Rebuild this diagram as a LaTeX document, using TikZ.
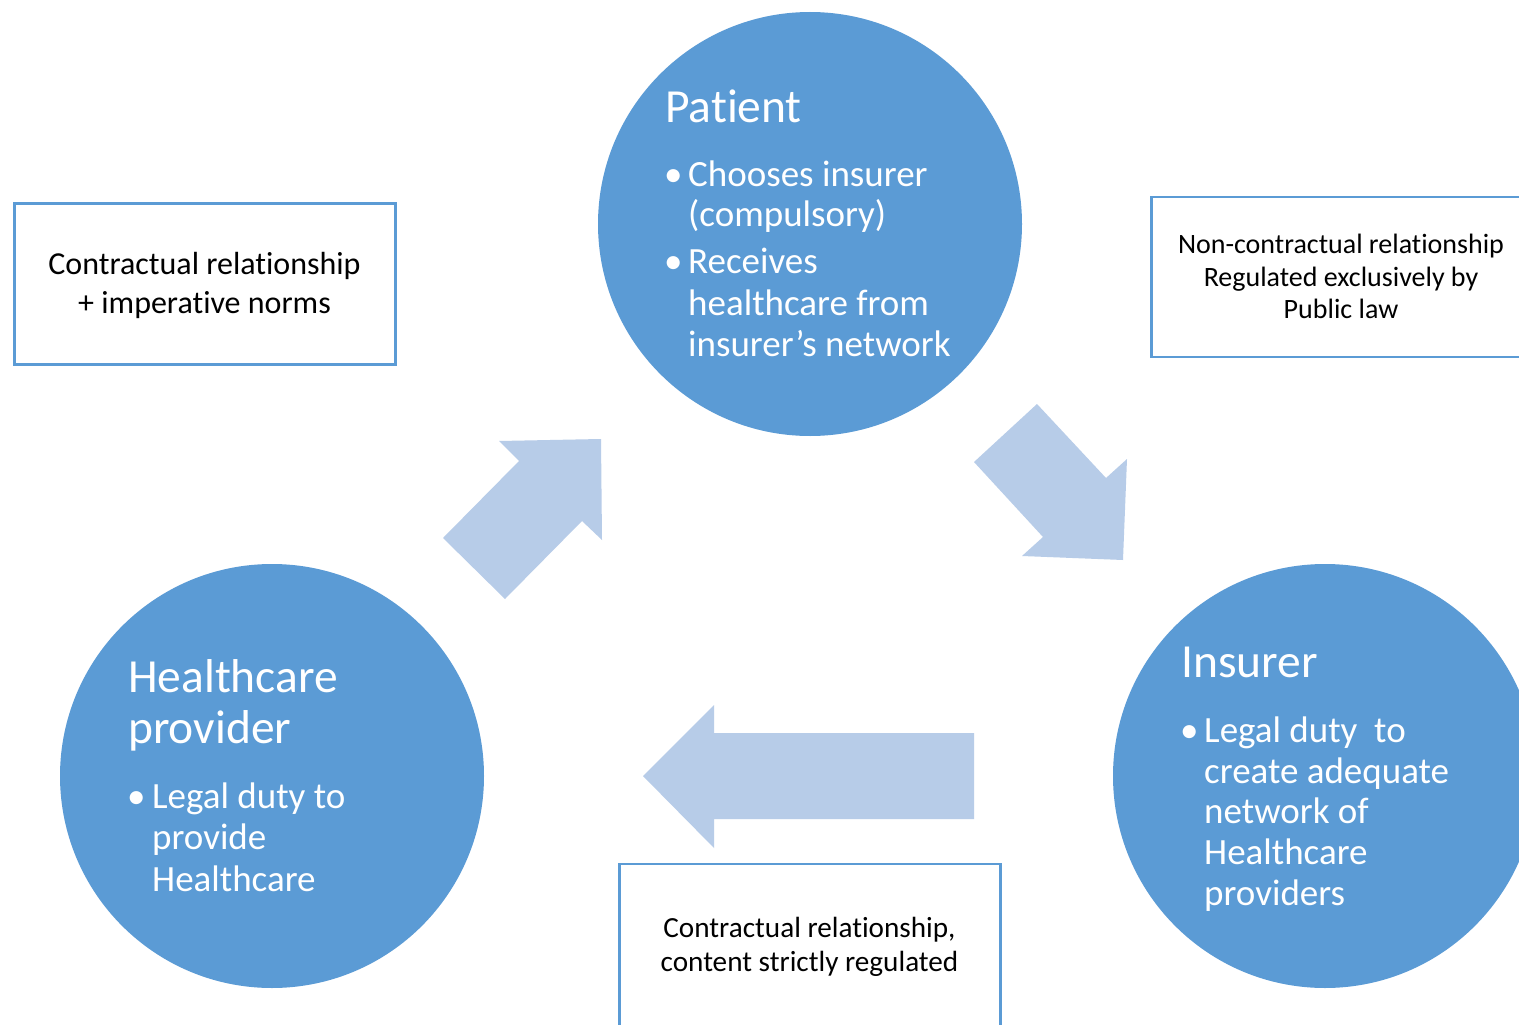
\documentclass[tikz,border=0pt]{standalone}
\usepackage{fontspec}
\setmainfont{Carlito}[Ligatures={NoCommon}]
\definecolor{circblue}{HTML}{5B9BD5}
\definecolor{arrowblue}{HTML}{B7CCE8}
\definecolor{frameblue}{HTML}{5B9BD5}
\begin{document}
\begin{tikzpicture}[x=1pt,y=-1pt,
  circ/.style={circle,fill=circblue,draw=none,minimum size=424pt,inner sep=0pt},
  frame/.style={draw=frameblue,line width=2.5pt,fill=white,inner sep=0pt,outer sep=0pt,anchor=north west},
  blockarrow/.style={fill=arrowblue,draw=none},
  headtxt/.style={text=white,inner sep=0pt,anchor=base west,font=\fontsize{47.5}{52}\selectfont},
  bultxt/.style={text=white,inner sep=0pt,anchor=base west,font=\fontsize{37}{41}\selectfont},
  ltxt/.style={text=black,inner sep=0pt,anchor=base,font=\fontsize{32}{36}\selectfont},
  rtxt/.style={text=black,inner sep=0pt,anchor=base,font=\fontsize{28}{32}\selectfont},
  btxt/.style={text=black,inner sep=0pt,anchor=base,font=\fontsize{29.2}{33}\selectfont}]
\useasboundingbox (0,0) rectangle (1519,1025);
\clip (0,0) rectangle (1519,1025);
\fill[white] (0,0) rectangle (1519,1025);

% circles
\node[circ] (patient) at (810,224) {};
\node[circ] (provider) at (272,776) {};
\node[circ] (insurer) at (1325,776) {};

% block arrows
\fill[blockarrow] (443,538) -- (519,461) -- (499,441) -- (601,439) -- (602,540) -- (582,521) -- (505,599) -- cycle;
\fill[blockarrow] (1037,404) -- (1106,478) -- (1127,459) -- (1123,560) -- (1022,556) -- (1043,537) -- (974,462) -- cycle;
\fill[blockarrow] (643,776) -- (714,705) -- (714,733) -- (974,733) -- (974,819) -- (714,819) -- (714,848) -- cycle;

% boxes
\node[frame,minimum width=381pt,minimum height=161pt] (lbox) at (14.5,203.5) {};
\node[frame,minimum width=380pt,minimum height=160pt] (rbox) at (1151.5,197) {};
\node[frame,minimum width=381pt,minimum height=180pt] (bbox) at (619.5,864) {};

% Patient text
\node[headtxt] (pt) at (665,122) {Patient};
\node[bultxt] (pb1) at (664,186) {•};
\node[bultxt] (p1) at (688,186) {Chooses insurer};
\node[bultxt] (p2) at (688,226) {(compulsory)};
\node[bultxt] (pb2) at (664,273) {•};
\node[bultxt] (p3) at (688,273) {Receives};
\node[bultxt] (p4) at (688,315) {healthcare from};
\node[bultxt] (p5) at (688,356) {insurer’s network};

% Insurer text
\node[headtxt] (it) at (1181,677) {Insurer};
\node[bultxt] (ib1) at (1180,742) {•};
\node[bultxt] (i1) at (1204,742) {Legal duty\ \ to};
\node[bultxt] (i2) at (1204,783) {create adequate};
\node[bultxt] (i3) at (1204,823) {network of};
\node[bultxt] (i4) at (1204,864) {Healthcare};
\node[bultxt] (i5) at (1204,905) {providers};

% Healthcare provider text
\node[headtxt] (ht1) at (128,692) {Healthcare};
\node[headtxt] (ht2) at (128,743) {provider};
\node[bultxt] (hb1) at (127,808) {•};
\node[bultxt] (h1) at (152,808) {Legal duty to};
\node[bultxt] (h2) at (152,849) {provide};
\node[bultxt] (h3) at (152,891) {Healthcare};

% box texts
\node[ltxt] (l1) at (204.5,274) {Contractual relationship};
\node[ltxt] (l2) at (204.5,313) {+ imperative norms};
\node[rtxt] (r1) at (1341,253) {Non-contractual relationship};
\node[rtxt] (r2) at (1341,286) {Regulated exclusively by};
\node[rtxt] (r3) at (1341,318) {Public law};
\node[btxt] (b1) at (809.5,937) {Contractual relationship,};
\node[btxt] (b2) at (809.5,971) {content strictly regulated};
\end{tikzpicture}
\end{document}
